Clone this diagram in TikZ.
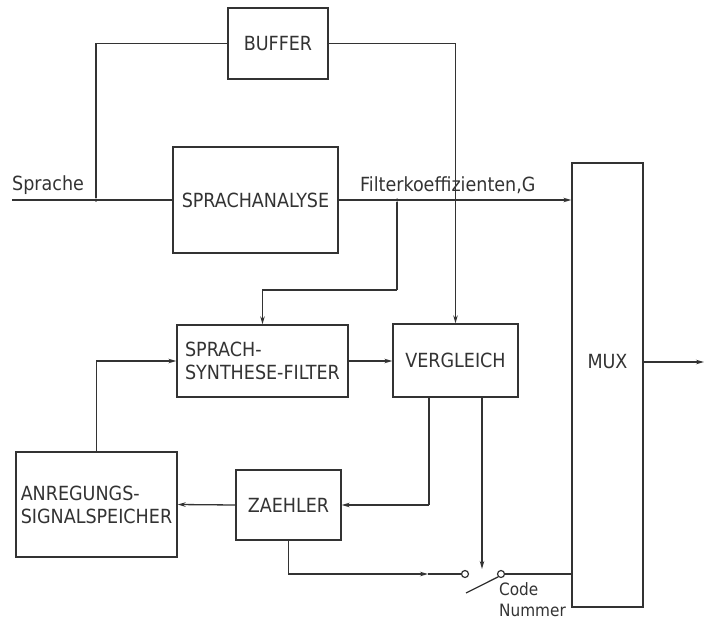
\documentclass[tikz,border=0pt]{standalone}
\usepackage{fontspec}
\setmainfont{DejaVu Sans Condensed}
\usetikzlibrary{arrows.meta,calc}
\definecolor{ink}{HTML}{333333}
\tikzset{
  blk/.style={draw=ink, line width=1.3pt, rectangle, inner sep=0pt, text=ink,
    font=\fontsize{19.5}{23}\selectfont},
  wire/.style={draw=ink, line width=1.3pt},
  arr/.style={wire, -{Stealth[length=8pt,width=4.5pt]}},
  lbl/.style={text=ink, inner sep=0pt, font=\fontsize{19.5}{23}\selectfont},
  contact/.style={draw=ink, line width=1.2pt, circle, minimum size=7pt, inner sep=0pt, fill=white},
  dot/.style={circle, fill=ink, minimum size=3.5pt, inner sep=0pt}
}
\begin{document}
\begin{tikzpicture}[x=1pt,y=-1pt]
\useasboundingbox (0,0) rectangle (704,624);
% blocks
\node[blk, minimum width=100pt, minimum height=71pt] (buffer) at (278,43.5) {BUFFER};
\node[blk, minimum width=165pt, minimum height=106pt] (analyse) at (255.5,200) {SPRACHANALYSE};
\node[blk, minimum width=171pt, minimum height=72pt, align=left] (ssf) at (262.5,361) {SPRACH-\\SYNTHESE-FILTER};
\node[blk, minimum width=125pt, minimum height=73pt] (vergl) at (455.5,360.5) {VERGLEICH};
\node[blk, minimum width=71pt, minimum height=444pt] (mux) at (607.5,385) {};
\node[lbl] (muxlabel) at (607.5,362) {MUX};
\node[blk, minimum width=105pt, minimum height=70pt] (zaehler) at (288.5,505) {ZAEHLER};
\node[blk, minimum width=161pt, minimum height=105pt, align=left] (anreg) at (96.5,504.5) {ANREGUNGS-\\SIGNALSPEICHER};
% coordinates
\coordinate (sin) at (12,200);
\node[dot] (j1) at (96,200) {};
\node[dot] (j2) at (397,200) {};
\coordinate (b1) at (397,290);
\coordinate (vo1) at (429,397);
\coordinate (vo2) at (482,397);
\coordinate (vo1b) at (429,505);
\coordinate (swctl) at (482,569);
\coordinate (amid) at (428,574);
\node[contact] (sw1) at (465,574) {};
\node[contact] (sw2) at (501,574) {};
\coordinate (lev) at (466,593);
\coordinate (out) at (704,362);
% labels
\node[lbl, anchor=south west] (sprache) at (12,195) {Sprache};
\node[lbl, anchor=south west] (filt) at (360,194) {Filterkoeffizienten,G};
\node[lbl, anchor=north west, align=left, font=\fontsize{17}{21}\selectfont] (code) at (499,582) {Code\\Nummer};
% connectors
\draw[wire] (sin) -- (analyse.west);
\draw[wire] (j1) |- (buffer.west);
\draw[arr] (buffer.east) -| (vergl.north);
\draw[arr] (analyse.east) -- (analyse.east -| mux.west);
\draw[wire] (j2) -- (b1);
\draw[arr] (b1) -| (ssf.north);
\draw[arr] (ssf.east) -- (ssf.east -| vergl.west);
\draw[wire] (vo1) -- (vo1b);
\draw[arr] (vo1b) -- (zaehler.east);
\draw[arr] (vo2) -- (swctl);
\draw[arr] (zaehler.west) -- (anreg.east);
\draw[arr] (anreg.north) |- (ssf.west);
\draw[arr] (zaehler.south) |- (amid);
\draw[wire] (amid) -- (sw1);
\draw[wire] (lev) -- (sw2.south west);
\draw[wire] (sw2) -- (sw2 -| mux.west);
\draw[arr] (mux.east |- out) -- (out);
\end{tikzpicture}
\end{document}
